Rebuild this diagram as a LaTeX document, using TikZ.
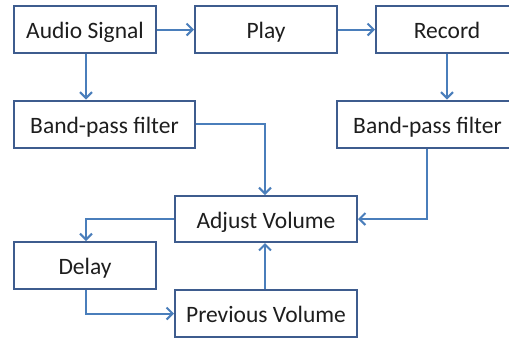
\documentclass[tikz,border=0pt]{standalone}
\usepackage{fontspec}
\setmainfont{Carlito}
\usetikzlibrary{arrows.meta}
\usetikzlibrary{calc}
\definecolor{edge}{HTML}{3E5C8E}
\definecolor{wire}{HTML}{4A7EBB}
\definecolor{ink}{HTML}{1E1E1E}
\tikzset{
  % A block of the signal chain
  block/.style={
    draw=edge, fill=white, line width=2pt, rectangle, align=center,
    text=ink, font=\fontsize{23.5}{27}\selectfont, inner sep=0pt,
    text height=20pt, text depth=2pt,
    minimum height=47pt, minimum width=#1},
  % Connectors
  flow/.style={-{Straight Barb[length=6pt, width=12pt, line width=2pt]},
    draw=wire, line width=2pt},
}

\begin{document}
\begin{tikzpicture}[x=1pt, y=-1pt]

  \clip (0,0) rectangle (509,341);
  \fill[white] (0,0) rectangle (509,341);

  \node[block=142pt] (audio)  at (85,29.5)    {Audio Signal};
  \node[block=142pt] (play)   at (266,29.5)   {Play};
  \node[block=142pt] (record) at (447,29.5)   {Record};
  \node[block=181pt] (bpfa)   at (104.5,124)  {Band-pass filter};
  \node[block=181pt] (bpfb)   at (427.5,124)  {Band-pass filter};
  \node[block=182pt, minimum height=46pt] (adjust) at (266,219) {Adjust Volume};
  \node[block=142pt] (delay)  at (85,265.5)   {Delay};
  \node[block=182pt] (prev)   at (266,313.5)  {Previous Volume};

  \draw[flow] (audio) -- (play);
  \draw[flow] (play) -- (record);
  \draw[flow] (audio.south -| 86,0) -- (bpfa.north -| 86,0);
  \draw[flow] (record) -- (bpfb.north -| record);
  \draw[flow] (bpfa.east) -| (adjust.north -| 265,0);
  \draw[flow] (bpfb.south -| 427,0) |- (adjust.east);
  \draw[flow] (adjust.west) -| (delay.north -| 86,0);
  \draw[flow] (delay.south -| 86,0) |- (prev.west);
  \draw[flow] (prev.north -| 265,0) -- (adjust.south -| 265,0);

\end{tikzpicture}
\end{document}
